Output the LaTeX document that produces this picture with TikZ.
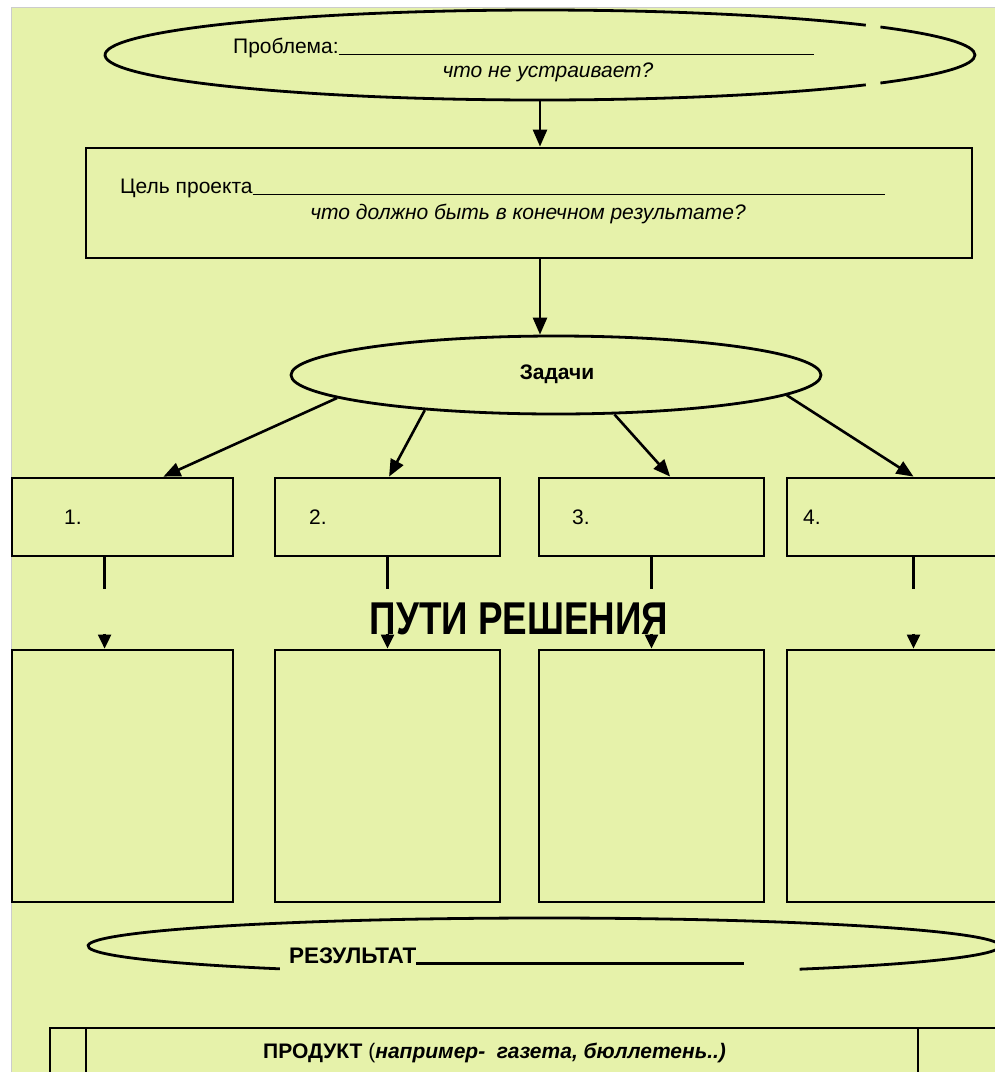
\documentclass[tikz,border=0pt]{standalone}
\usepackage{fontspec}
\usepackage{graphicx}
\setmainfont{Liberation Sans}
\usetikzlibrary{arrows.meta,calc,shapes.geometric}
\definecolor{bgc}{RGB}{230,242,170}
\begin{document}
\begin{tikzpicture}[x=1pt,y=-1pt,
  outl/.style={line width=2.8pt},
  boxn/.style={draw,line width=2.8pt,inner sep=0pt},
  conn/.style={line width=2.6pt,-{Triangle[length=17pt,width=14pt]}},
  stub/.style={line width=2.2pt},
  tipc/.style={line width=2.2pt,-{Triangle[length=14pt,width=13pt]}},
  txt/.style={inner sep=0pt,font=\fontsize{21}{25}\selectfont},
]
\useasboundingbox (0,0) rectangle (995,1072);
\clip (0,0) rectangle (995,1072);
\fill[white] (0,0) rectangle (995,1072);
\fill[bgc] (11,7) rectangle (995,1072);
\draw[gray!40, line width=1pt] (11,1072) -- (11,7) -- (995,7);

% ---------- Problem ellipse ----------
\node[ellipse, minimum width=870pt, minimum height=90pt, inner sep=0pt] (prob) at (540,55) {};
\draw[outl] ([shift={(41.5:435 and 45)}]prob.center) arc[start angle=41.5, end angle=318.5, x radius=435, y radius=45];
\draw[outl] ([shift={(-38.5:435 and 45)}]prob.center) arc[start angle=-38.5, end angle=38.5, x radius=435, y radius=45];
\node[txt, anchor=base west] (probt) at (233,53) {Проблема:\rule[-2pt]{475pt}{1.5pt}};
\node[txt, anchor=base, font=\fontsize{21}{25}\selectfont\itshape] (probq) at (548,77) {что не устраивает?};

% ---------- Goal rectangle ----------
\node[boxn, minimum width=886pt, minimum height=110pt] (goal) at (529,203) {};
\node[txt, anchor=base west] (goalt) at (120,193) {Цель проекта\rule[-2pt]{632pt}{1.5pt}};
\node[txt, anchor=base, font=\fontsize{21}{25}\selectfont\itshape] (goalq) at (528,219) {что должно быть в конечном результате?};

% ---------- Tasks ellipse ----------
\node[ellipse, draw, line width=2.8pt, minimum width=530pt, minimum height=78pt, inner sep=0pt] (tasks) at (556,375) {};
\node[inner sep=0pt, font=\bfseries\fontsize{21}{25}\selectfont] (taskst) at (557,374) {Задачи};

\draw[conn] (prob.south) -- (prob.south |- goal.north);
\draw[conn] (goal.south -| prob.south) -- (tasks.north -| prob.south);

% ---------- Task boxes ----------
\node[boxn, minimum width=221pt, minimum height=78pt] (t1) at (122.5,517) {};
\node[boxn, minimum width=225pt, minimum height=78pt] (t2) at (387.5,517) {};
\node[boxn, minimum width=225pt, minimum height=78pt] (t3) at (651.5,517) {};
\node[boxn, minimum width=253pt, minimum height=78pt] (t4) at (913.5,517) {};
\node[txt, anchor=base west] (n1) at (64,524) {1.};
\node[txt, anchor=base west] (n2) at (309,524) {2.};
\node[txt, anchor=base west] (n3) at (572,524) {3.};
\node[txt, anchor=base west] (n4) at (803,524) {4.};

\draw[conn] (tasks.186.5) -- ($(t1.north west)!0.683!(t1.north east)$);
\draw[conn] (tasks.195) -- ($(t2.north west)!0.507!(t2.north east)$);
\draw[conn] (tasks.326.8) -- ($(t3.north west)!0.582!(t3.north east)$);
\draw[conn] (tasks.355) -- (t4.north);

% ---------- Solution boxes ----------
\node[boxn, minimum width=221pt, minimum height=252pt] (b1) at (122.5,776) {};
\node[boxn, minimum width=225pt, minimum height=252pt] (b2) at (387.5,776) {};
\node[boxn, minimum width=225pt, minimum height=252pt] (b3) at (651.5,776) {};
\node[boxn, minimum width=253pt, minimum height=252pt] (b4) at (913.5,776) {};

\node[inner sep=0pt, anchor=base, font=\bfseries\fontsize{46}{50}\selectfont] (paths) at (519,634) {\scalebox{0.80}[1]{ПУТИ РЕШЕНИЯ}};

\draw[stub] ($(t1.south west)!0.42!(t1.south east)$) -- ++(0,32);
\draw[stub] (t2.south) -- ++(0,32);
\draw[stub] (t3.south) -- ++(0,32);
\draw[stub] (t4.south) -- ++(0,32);
\draw[tipc] ($(b1.north west)!0.42!(b1.north east)+(0,-15)$) -- ($(b1.north west)!0.42!(b1.north east)$);
\draw[tipc] ($(b2.north)+(0,-15)$) -- (b2.north);
\draw[tipc] ($(b3.north)+(0,-15)$) -- (b3.north);
\draw[tipc] ($(b4.north)+(0,-15)$) -- (b4.north);

% ---------- Result ellipse ----------
\node[ellipse, minimum width=912pt, minimum height=56pt, inner sep=0pt] (res) at (544,946) {};
\draw[outl] ([shift={(125.4:456 and 28)}]res.center) arc[start angle=125.4, end angle=415.9, x radius=456, y radius=28];
\node[txt, anchor=base west, font=\bfseries\fontsize{22.5}{26}\selectfont] (rest) at (289,963) {РЕЗУЛЬТАТ\rule[-2pt]{328pt}{2.6pt}};

% ---------- Product ----------
\node[boxn, minimum width=990pt, minimum height=92pt] (prod) at (545,1074) {};
\draw[outl] (86,1028) -- (86,1080);
\draw[outl] (918,1028) -- (918,1080);
\node[txt, anchor=base west] (prodt) at (263,1058) {\textbf{ПРОДУКТ} (\textbf{\textit{например-\ \ газета, бюллетень..)}}};
\end{tikzpicture}
\end{document}
